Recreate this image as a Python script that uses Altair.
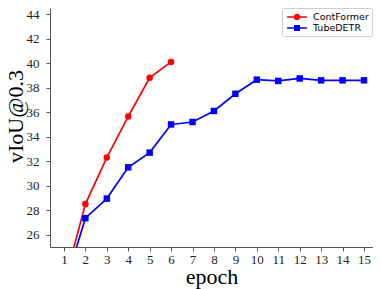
import altair as alt
import pandas as pd

epochs_cf = [1, 2, 3, 4, 5, 6]
contformer = [21.9, 28.5, 32.3, 35.65, 38.8, 40.1]
epochs_td = [1, 2, 3, 4, 5, 6, 7, 8, 9, 10, 11, 12, 13, 14, 15]
tubedetr = [21.6, 27.35, 28.95, 31.5, 32.7, 35.0, 35.2, 36.1, 37.5, 38.65, 38.55, 38.75, 38.6, 38.6, 38.6]
series_names = ["ContFormer", "TubeDETR"]
series_colors = ["#ff0000", "#0000ff"]
x_ticks = list(range(1, 16))
y_ticks = list(range(26, 45, 2))

df = pd.concat([
    pd.DataFrame({"epoch": epochs_cf, "value": contformer, "series": series_names[0]}),
    pd.DataFrame({"epoch": epochs_td, "value": tubedetr, "series": series_names[1]}),
])

x = alt.X("epoch:Q", scale=alt.Scale(domain=[0.35, 15.42], nice=False, zero=False),
          axis=alt.Axis(values=x_ticks, title="epoch", grid=False, labelFont="Liberation Serif",
                        labelFontSize=13, labelColor="#222", titleFont="Liberation Serif",
                        titleFontSize=22, titleFontWeight="normal", titleColor="#000",
                        tickSize=4, labelPadding=2, titleY=36, titleBaseline="alphabetic",
                        domainColor="#555", tickColor="#555", labelFlush=False))
y = alt.Y("value:Q", scale=alt.Scale(domain=[25, 44.5], nice=False, zero=False),
          axis=alt.Axis(values=y_ticks, title="vIoU@0.3", grid=False, labelFont="Liberation Serif",
                        labelFontSize=13, labelColor="#222", titleFont="Liberation Serif",
                        titleFontSize=22, titleFontWeight="normal", titleColor="#000",
                        tickSize=4, labelPadding=7, titleX=-28, titleY=108,
                        titleBaseline="alphabetic", domainColor="#555", tickColor="#555",
                        labelFlush=False))
color = alt.Color("series:N", scale=alt.Scale(domain=series_names, range=series_colors), legend=None)

lines = alt.Chart(df).mark_line(strokeWidth=1.7, clip=True).encode(x=x, y=y, color=color)
points = alt.Chart(df).mark_point(filled=True, opacity=1, size=42, clip=True).encode(
    x=x, y=y, color=color,
    shape=alt.Shape("series:N", scale=alt.Scale(domain=series_names, range=["circle", "square"]), legend=None),
)

leg_paths = [
    "M-1.65,-0.13H1.65V0.13H-1.65ZM-0.55,0A0.55,0.55,0,1,1,0.55,0A0.55,0.55,0,1,1,-0.55,0Z",
    "M-1.65,-0.13H1.65V0.13H-1.65ZM-0.5,-0.5H0.5V0.5H-0.5Z",
]
leg = alt.Legend(title=None, orient="none", legendX=232, legendY=0, direction="vertical",
                 labelFont="DejaVu Sans", labelFontSize=9.5, labelColor="#000",
                 strokeColor="#cccccc", fillColor="#ffffff", cornerRadius=2,
                 padding=3, symbolOffset=6, labelOffset=10, rowPadding=-2,
                 symbolSize=144, symbolStrokeWidth=0)
legend_layer = alt.Chart(df[df["epoch"] == 1]).mark_point(filled=True, opacity=1, size=144, strokeWidth=0, clip=True).encode(
    x=x, y=y,
    fill=alt.Fill("series:N", scale=alt.Scale(domain=series_names, range=series_colors), legend=leg),
    shape=alt.Shape("series:N", scale=alt.Scale(domain=series_names, range=leg_paths), legend=leg),
)

chart = alt.layer(lines, points, legend_layer).resolve_scale(shape="independent", fill="independent").properties(
    width=323, height=239,
    autosize=alt.AutoSizeParams(type="none"),
    padding={"left": 42, "top": 0, "right": 0, "bottom": 42},
).configure_view(stroke=None)

chart.save("out.html", embed_options={"renderer": "svg", "actions": False})
